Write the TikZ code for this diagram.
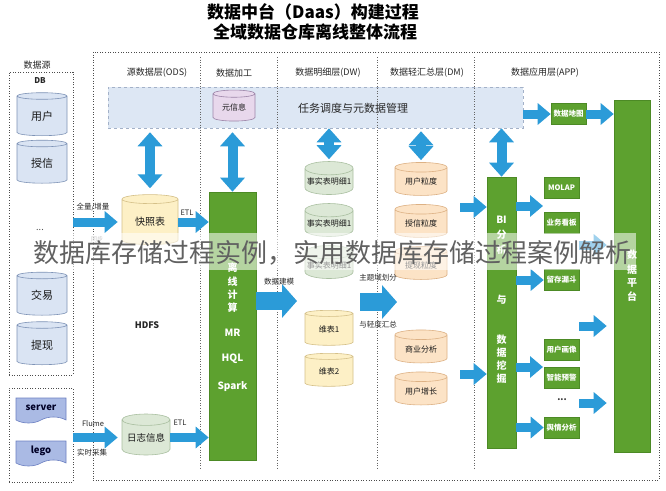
\documentclass[tikz,border=0pt]{standalone}
\usepackage{fontspec}
\setmainfont{Noto Sans CJK SC}
\usetikzlibrary{shapes.geometric,shapes.symbols,arrows.meta}
\definecolor{ablue}{HTML}{2B9BD8}
\definecolor{gfill}{HTML}{5DA12F}
\definecolor{gdraw}{HTML}{4C8A25}
\definecolor{bandfill}{HTML}{DDE7F4}
\definecolor{bandline}{HTML}{A3B1C8}
\definecolor{dbfill}{HTML}{DAE4F3}
\definecolor{dbline}{HTML}{7E93B6}
\definecolor{dwfill}{HTML}{DCE8D6}
\definecolor{dwline}{HTML}{A9BFA0}
\definecolor{dmfill}{HTML}{FCE3C6}
\definecolor{dmline}{HTML}{DDB184}
\definecolor{yfill}{HTML}{FDF0C6}
\definecolor{yline}{HTML}{D5C088}
\definecolor{pfill}{HTML}{E8D8EC}
\definecolor{pline}{HTML}{9C84A8}
\definecolor{docfill}{HTML}{AABAE4}
\definecolor{docline}{HTML}{6C80C2}
\newcommand{\cyltxt}[1]{\raisebox{-3pt}{#1}}
\begin{document}
\begin{tikzpicture}[x=1pt,y=-1pt,
  font=\fontsize{8}{9}\selectfont,
  dotbox/.style={draw=black!70, dash pattern=on 1pt off 1.6pt, line width=0.7pt, inner sep=0},
  sepline/.style={draw=black!60, dash pattern=on 1pt off 1.6pt, line width=0.6pt},
  cyl/.style={cylinder, shape border rotate=90, aspect=0.3, line width=0.6pt, inner sep=0, text=black!90},
  gblock/.style={fill=gfill, draw=gdraw, line width=0.6pt, inner sep=0},
  gsmall/.style={gblock, minimum width=35, minimum height=21, text=white, font=\fontsize{7.5}{8}\selectfont\bfseries},
  wtext/.style={text=white, font=\fontsize{10}{11}\selectfont\bfseries, inner sep=0},
  hdr/.style={font=\fontsize{9}{10}\selectfont, text=black!85},
  lbl/.style={font=\fontsize{7.5}{8}\selectfont, text=black!85, inner sep=0},
  barrow/.style={ablue, line width=9pt, -{Triangle[width=21pt,length=13pt]}},
  darrow/.style={ablue, line width=10pt, {Triangle[width=24pt,length=14pt]}-{Triangle[width=24pt,length=14pt]}},
  bigarrow/.style={ablue, line width=18pt, -{Triangle[width=33pt,length=15pt]}},
  docshape/.style={tape, tape bend top=none, tape bend bottom=in and out, tape bend height=6pt, fill=docfill, draw=docline, line width=0.6pt, minimum width=50, minimum height=25, text=black!85!blue, font=\fontsize{9.5}{10}\selectfont\bfseries}
]
\useasboundingbox (0,0) rectangle (666,490);
\fill[white] (0,0) rectangle (666,490);

% titles
\node[font=\fontsize{17}{18}\selectfont\bfseries] (t1) at (313,12) {数据中台（Daas）构建过程};
\node[font=\fontsize{17}{18}\selectfont\bfseries] (t2) at (315,32) {全域数据仓库离线整体流程};

% frames
\node[dotbox, minimum width=64, minimum height=303] (dbbox) at (41,223.5) {};
\node[dotbox, minimum width=64, minimum height=94] (srvbox) at (41,435) {};
\node[dotbox, minimum width=566, minimum height=428] (mainbox) at (376,266) {};
\node[hdr] (dslbl) at (37,65) {数据源};
\node[hdr, font=\fontsize{8}{9}\selectfont\bfseries] (dblbl) at (40,81) {DB};

% band
\node[fill=bandfill, draw=bandline, dashed, line width=0.5pt, minimum width=415, minimum height=41, inner sep=0] (band) at (315.5,107.5) {};
\node[font=\fontsize{11}{12}\selectfont, text=black!85] (bandtxt) at (353,108) {任务调度与元数据管理};

% separators
\foreach \sx/\nm in {200/s1,277/s2,377/s3,474/s4}{
  \coordinate (\nm a) at (\sx,57);
  \coordinate (\nm b) at (\sx,470);
  \draw[sepline] (\nm a) -- (\nm b);
}

% headers
\node[hdr] (h1) at (157,73) {源数据层(ODS)};
\node[hdr] (h2) at (234,73) {数据加工};
\node[hdr] (h3) at (328,73) {数据明细层(DW)};
\node[hdr] (h4) at (427,73) {数据轻汇总层(DM)};
\node[hdr] (h5) at (545,73) {数据应用层(APP)};

% DB cylinders
\foreach \nm/\cy/\tx in {db1/116/用户,db2/163.5/授信,db3/295.5/交易,db4/345/提现}{
  \node[cyl, fill=dbfill, draw=dbline, minimum width=50, minimum height=43, font=\fontsize{11}{12}\selectfont] (\nm) at (42,\cy) {\cyltxt{\tx}};
}
\node[font=\fontsize{9}{9}\selectfont, text=black!70] (dots1) at (40,230) {...};

% server / lego
\node[docshape] (server) at (41,407.5) {server};
\node[docshape] (lego) at (41,450.5) {lego};

% ODS
\node[cyl, fill=yfill, draw=yline, minimum width=56, minimum height=50, font=\fontsize{10}{11}\selectfont] (snap) at (150,222) {\cyltxt{快照表}};
\node[cyl, fill=dwfill, draw=dwline, minimum width=48, minimum height=41, font=\fontsize{9.5}{10}\selectfont] (log) at (146,437.5) {\cyltxt{日志信息}};
\node[font=\fontsize{9}{10}\selectfont\bfseries, text=black!85] (hdfs) at (147,325) {HDFS};

% meta
\node[cyl, fill=pfill, draw=pline, minimum width=42, minimum height=31, font=\fontsize{8}{9}\selectfont] (meta) at (234,107.5) {\cyltxt{元信息}};

% green processing block
\node[gblock, minimum width=47, minimum height=268] (green) at (232.5,326) {};
\foreach \ch/\cy [count=\i] in {离/268,线/282,计/295,算/308}{
  \node[wtext] (gc\i) at (232.5,\cy) {\ch};
}
\node[wtext] (mr) at (232.5,333) {MR};
\node[wtext] (hql) at (232.5,359) {HQL};
\node[wtext] (spark) at (232.5,387) {Spark};

% DW cylinders
\foreach \nm/\cy in {dw1/181.5,dw2/223.5,dw3/265.5}{
  \node[cyl, fill=dwfill, draw=dwline, minimum width=48, minimum height=33] (\nm) at (329,\cy) {\cyltxt{事实表明细1}};
}
\node[cyl, fill=yfill, draw=yline, minimum width=48, minimum height=35] (wb1) at (329,329.5) {\cyltxt{维表1}};
\node[cyl, fill=yfill, draw=yline, minimum width=48, minimum height=33] (wb2) at (329,371.5) {\cyltxt{维表2}};

% DM cylinders
\foreach \nm/\cy/\tx in {dm1/181.5/用户粒度,dm2/223.5/授信粒度,dm3/265.5/提现粒度,dm4/349/商业分析,dm5/391/用户增长}{
  \node[cyl, fill=dmfill, draw=dmline, minimum width=52, minimum height=33] (\nm) at (421,\cy) {\cyltxt{\tx}};
}

% BI block
\node[gblock, minimum width=29, minimum height=271] (bi) at (501.5,312.5) {};
\foreach \ch/\cy [count=\i] in {BI/220,分/235,析/250,与/300,数/340,据/353,挖/366,掘/379}{
  \node[wtext] (bc\i) at (501.5,\cy) {\ch};
}

% platform
\node[gblock, minimum width=36, minimum height=352] (plat) at (632,276) {};
\foreach \ch/\cy [count=\i] in {数/255,据/270,平/283,台/297}{
  \node[wtext] (pc\i) at (632,\cy) {\ch};
}

% app boxes
\node[gsmall] (map) at (568.5,114) {数据地图};
\node[gsmall] (molap) at (561.5,187.5) {MOLAP};
\node[gsmall] (kb) at (561.5,223) {业务看板};
\node[gsmall] (lc) at (561.5,280) {留存漏斗};
\node[gsmall] (hx) at (561.5,350) {用户画像};
\node[gsmall] (yj) at (561.5,378) {智能预警};
\node[font=\fontsize{9}{9}\selectfont\bfseries, text=black!80] (dots2) at (562,400) {...};
\node[gsmall] (yq) at (561.5,427.5) {舆情分析};

% double arrows
\draw[darrow, shorten <=4pt, shorten >=6pt] (band.south -| snap.north) -- (snap.north);
\draw[darrow, shorten <=4pt] (band.south -| green.north) -- (green.north);
\draw[darrow, shorten >=2pt] (band.south -| dw1.north) -- (dw1.north);
\draw[darrow, shorten <=3pt, shorten >=2pt] (band.south -| dm1.north) -- (dm1.north);
\draw[darrow] (band.south -| bi.north) -- (bi.north);

% left arrows
\draw[barrow, shorten >=4pt] (dbbox.east |- snap.west) -- (snap.west);
\node[lbl] (qlzl) at (93,207) {全量/增量};
\node[lbl, text=black!45, font=\fontsize{6}{7}\selectfont] (tb) at (97,239) {同步};
\draw[barrow] (snap.east) -- (snap.east -| green.west);
\node[lbl] (etl1) at (187,213) {ETL};
\draw[barrow, shorten >=4pt] (srvbox.east |- log.west) -- (log.west);
\node[lbl] (flume) at (93,424) {Flume};
\node[lbl] (sscj) at (92,453) {实时采集};
\draw[barrow] (log.east) -- (log.east -| green.west);
\node[lbl] (etl2) at (180,423) {ETL};

% big arrows
\coordinate (mdl) at (297,301);
\draw[bigarrow] (green.east |- mdl) -- (mdl);
\node[lbl] (sjjm) at (279,282) {数据建模};
\coordinate (zt1) at (360,302);
\coordinate (zt2) at (397,302);
\draw[bigarrow] (zt1) -- (zt2);
\node[lbl] (ztyhf) at (378,278) {主题域划分};
\node[lbl] (qdhz) at (378,325) {与轻度汇总};

% DM -> BI
\coordinate (a1) at (460,207);
\coordinate (a2) at (460,374);
\draw[barrow] (a1) -- (a1 -| bi.west);
\draw[barrow] (a2) -- (a2 -| bi.west);

% band -> map -> platform
\draw[barrow] (band.east |- map.west) -- (map.west);
\draw[barrow] (map.east) -- (map.east -| plat.west);

% BI -> apps
\coordinate (o1) at (543,206);
\coordinate (o2) at (543,367);
\draw[barrow] (bi.east |- o1) -- (o1);
\draw[barrow] (bi.east |- lc.west) -- (lc.west);
\draw[barrow] (bi.east |- o2) -- (o2);
\draw[barrow] (bi.east |- yq.west) -- (yq.west);

% apps -> platform
\foreach \py [count=\i] in {245,326,403}{
  \coordinate (p\i) at (579,\py);
  \draw[barrow, shorten >=7pt] (p\i) -- (p\i -| plat.west);
}

% watermark overlay
\fill[white, opacity=0.55] (30,233) rectangle (636,270);
\node[font=\fontsize{26}{28}\selectfont, text=black!62, inner sep=0] (wm) at (332,253) {数据库存储过程实例，实用数据库存储过程案例解析};
\end{tikzpicture}
\end{document}
